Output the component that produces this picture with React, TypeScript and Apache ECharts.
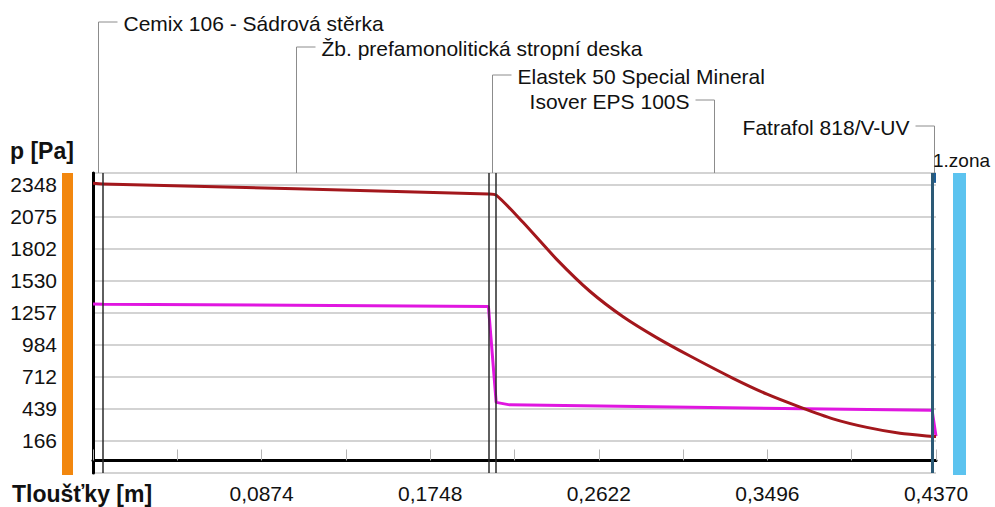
import React, { useEffect, useRef } from 'react';
import * as echarts from 'echarts';

// ---- data ----
const layerNames = [
  'Cemix 106 - Sádrová stěrka',
  'Žb. prefamonolitická stropní deska',
  'Elastek 50 Special Mineral',
  'Isover EPS 100S',
  'Fatrafol 818/V-UV',
];
const layerThickness = [0.005, 0.2, 0.004, 0.226, 0.002];

// saturated water-vapour pressure p_sat [Pa]
const satX = [0, 0.005, 0.205, 0.209, 0.2229, 0.2405, 0.2577, 0.2748, 0.2924, 0.3095, 0.3318, 0.3494, 0.3665, 0.3836, 0.4012, 0.4183, 0.435, 0.437];
const satP = [2362, 2357, 2272, 2262, 2030, 1712, 1440, 1225, 1045, 890, 700, 565, 455, 355, 282, 232, 205, 204];

// partial water-vapour pressure p [Pa]
const partX = [0, 0.005, 0.205, 0.209, 0.216, 0.435, 0.437];
const partP = [1334, 1332, 1312, 495, 474, 427, 206];

const xTickLabels = ['0,0874', '0,1748', '0,2622', '0,3496', '0,4370'];
const yTickLabels = ['166', '439', '712', '984', '1257', '1530', '1802', '2075', '2348'];
const yAxisTitle = 'p [Pa]';
const xAxisTitle = 'Tloušťky [m]';
const zoneLabel = '1.zona';

// ---- layout / style ----
const FONT = 'Liberation Sans, Arial, sans-serif';
const X_STEP = 0.0437;
const Y_BASE = 166;
const Y_STEP = 272.75;
const labelRows = [
  { y: 22, side: 'right' },
  { y: 47, side: 'right' },
  { y: 75, side: 'right' },
  { y: 100, side: 'left' },
  { y: 126, side: 'left' },
];

export default function App() {
  const ref = useRef<HTMLDivElement>(null);
  useEffect(() => {
    if (!ref.current) return;
    const chart = echarts.init(ref.current, undefined, { renderer: 'svg' });

    const bounds: number[] = [];
    let acc = 0;
    layerThickness.forEach((t) => {
      acc += t;
      bounds.push(Math.round(acc * 10000) / 10000);
    });
    const mids = layerThickness.map((t, i) => (i === 0 ? 0 : bounds[i - 1]) + t / 2);
    const xMax = bounds[bounds.length - 1];
    const yMin = Y_BASE - Y_STEP;
    const yMax = 2450;

    const sat = satX.map((x, i) => [x, satP[i]]);
    const part = partX.map((x, i) => [x, partP[i]]);

    const option: any = {
      animation: false,
      textStyle: { fontFamily: FONT },
      grid: { left: 93, right: 59, top: 173, bottom: 34, show: false },
      xAxis: [
        {
          type: 'value',
          min: 0,
          max: xMax,
          interval: X_STEP,
          axisLine: { show: true, lineStyle: { color: '#000', width: 3 } },
          axisTick: { show: true, inside: true, length: 11, lineStyle: { color: '#b4b4b4', width: 1 } },
          splitLine: { show: false },
          axisLabel: {
            margin: 10,
            fontSize: 21,
            color: '#111',
            fontFamily: FONT,
            formatter: (v: number) => {
              const k = Math.round(v / X_STEP);
              if (Math.abs(v - k * X_STEP) > 1e-6 || k === 0 || k % 2 === 1) return '';
              return xTickLabels[k / 2 - 1] ?? '';
            },
          },
        },
        {
          type: 'value',
          position: 'top',
          min: 0,
          max: xMax,
          axisLine: { show: true, lineStyle: { color: '#000', width: 2 } },
          axisTick: { show: false },
          axisLabel: { show: false },
          splitLine: { show: false },
        },
      ],
      yAxis: [
        {
          type: 'value',
          min: yMin,
          max: yMax,
          interval: Y_STEP,
          axisLine: { show: true, lineStyle: { color: '#000', width: 3 } },
          axisTick: { show: false },
          splitLine: { show: true, lineStyle: { color: '#c4c4c4', width: 1.5 } },
          axisLabel: {
            margin: 36,
            fontSize: 21,
            color: '#111',
            fontFamily: FONT,
            padding: [13, 0, 0, 0],
            formatter: (v: number) => {
              const k = Math.round((v - Y_BASE) / Y_STEP);
              if (Math.abs(v - (Y_BASE + k * Y_STEP)) > 1) return '';
              return yTickLabels[k] ?? '';
            },
          },
        },
        {
          type: 'value',
          position: 'right',
          min: yMin,
          max: yMax,
          axisLine: { show: true, lineStyle: { color: '#000', width: 2 } },
          axisTick: { show: false },
          axisLabel: { show: false },
          splitLine: { show: false },
        },
      ],
      series: [
        {
          name: 'layers',
          type: 'line',
          data: [],
          silent: true,
          markLine: {
            silent: true,
            symbol: 'none',
            precision: 6,
            label: { show: false },
            data: bounds.slice(0, bounds.length - 1).map((b, i) => ({
              xAxis: b,
              lineStyle: {
                type: 'solid',
                color: i === bounds.length - 2 ? '#2c5a76' : '#2a2a2a',
                width: i === bounds.length - 2 ? 3 : 1.5,
              },
            })),
          },
          markArea: {
            silent: true,
            itemStyle: { color: '#1f5e96' },
            data: [[{ xAxis: bounds[bounds.length - 2], yAxis: 2366 }, { xAxis: xMax, yAxis: yMax }]],
          },
        },
        {
          name: 'p',
          type: 'line',
          data: part,
          showSymbol: false,
          symbol: 'none',
          lineStyle: { color: '#e016e0', width: 3 },
          itemStyle: { color: '#e016e0' },
        },
        {
          name: 'p_sat',
          type: 'line',
          data: sat,
          showSymbol: false,
          symbol: 'none',
          smooth: 0.25,
          lineStyle: { color: '#a3171c', width: 3 },
          itemStyle: { color: '#a3171c' },
        },
      ],
    };
    chart.setOption(option);

    const topY = chart.convertToPixel({ yAxisIndex: 0 }, yMax) as number;
    const botY = chart.convertToPixel({ yAxisIndex: 0 }, yMin) as number;
    const elements: any[] = [];
    mids.forEach((m, i) => {
      const px = Math.round(chart.convertToPixel({ xAxisIndex: 0 }, m) as number) + 0.5;
      const row = labelRows[i];
      const dir = row.side === 'right' ? 1 : -1;
      elements.push({
        type: 'polyline',
        silent: true,
        shape: { points: [[px, topY], [px, row.y], [px + dir * 19, row.y]] },
        style: { stroke: '#8c8c8c', lineWidth: 1, fill: null },
      });
      elements.push({
        type: 'text',
        silent: true,
        x: px + dir * 25,
        y: row.y + 1,
        style: {
          text: layerNames[i],
          fill: '#111',
          fontSize: 21,
          fontFamily: FONT,
          align: row.side === 'right' ? 'left' : 'right',
          verticalAlign: 'middle',
        },
      });
    });
    elements.push(
      { type: 'rect', silent: true, shape: { x: 62, y: topY, width: 11, height: botY - topY + 2 }, style: { fill: '#f2870e' } },
      { type: 'rect', silent: true, shape: { x: 953, y: topY, width: 13, height: botY - topY + 2 }, style: { fill: '#5cc3ef' } },
      {
        type: 'text', silent: true, x: 933, y: 160,
        style: { text: zoneLabel, fill: '#111', fontSize: 19, fontFamily: FONT, align: 'left', verticalAlign: 'middle' },
      },
      {
        type: 'text', silent: true, x: 10, y: 151,
        style: { text: yAxisTitle, fill: '#111', fontSize: 23, fontWeight: 'bold', fontFamily: FONT, align: 'left', verticalAlign: 'middle' },
      },
      {
        type: 'text', silent: true, x: 12, y: 494,
        style: { text: xAxisTitle, fill: '#111', fontSize: 23, fontWeight: 'bold', fontFamily: FONT, align: 'left', verticalAlign: 'middle' },
      }
    );
    chart.setOption({ graphic: { elements } });

    return () => chart.dispose();
  }, []);

  return (
    <div
      ref={ref}
      style={{ position: 'absolute', left: 0, top: 0, width: 995, height: 507, background: '#fff' }}
    />
  );
}
